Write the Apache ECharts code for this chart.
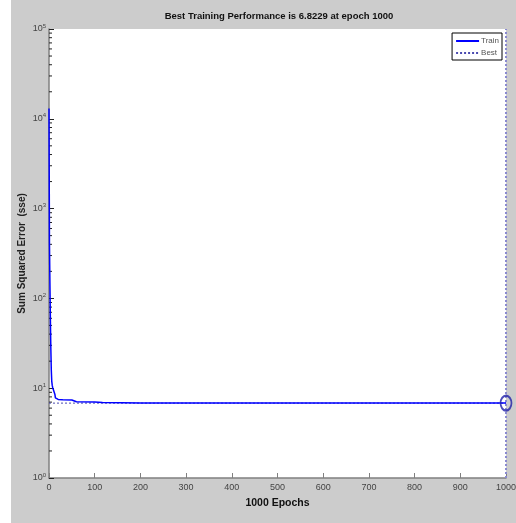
<!DOCTYPE html>
<html>
<head>
<meta charset="utf-8">
<script src="https://cdn.jsdelivr.net/npm/echarts@6/dist/echarts.min.js"></script>
<style>
  html, body { margin: 0; padding: 0; background: #ffffff; }
  #chart { position: absolute; left: 11px; top: 0; width: 505px; height: 523px; }
</style>
</head>
<body>
<div id="chart"></div>
<script>
// Training record: epoch and sum squared error at each vertex of the curve
const epochs = [0, 1, 2, 3, 4, 5, 6, 7, 8, 10, 12, 13, 14, 16, 20, 30, 50, 53, 60, 100, 117, 118, 200, 500, 1000];
const trainSse = [13000, 420, 150, 60, 28, 16, 12, 10.8, 10.2, 10, 9.8, 8.5, 7.8, 7.56, 7.5, 7.45, 7.4, 7.09, 7.07, 7.02, 6.95, 6.87, 6.84, 6.83, 6.8229];
const bestEpoch = 1000;
const bestSse = 6.8229;

// Log axis decades and the in-between minor tick mantissas
const decades = [1, 10, 100, 1000, 10000];
const mantissas = [2, 3, 4, 5, 6, 7, 8, 9];

const minorTickValues = [];
decades.forEach(d => mantissas.forEach(m => minorTickValues.push([0, d * m])));

const FONT = '"Liberation Sans Narrow", "Liberation Sans", Arial, sans-serif';

const chart = echarts.init(document.getElementById('chart'));
chart.setOption({
  backgroundColor: '#cccccc',
  animation: false,
  title: {
    text: 'Best Training Performance is ' + bestSse + ' at epoch ' + bestEpoch,
    left: 263,
    textAlign: 'center',
    top: 6,
    textStyle: { fontFamily: FONT, fontWeight: 'bold', fontSize: 9.5, color: '#111' }
  },
  legend: {
    right: 14,
    top: 33,
    orient: 'vertical',
    backgroundColor: '#ffffff',
    borderColor: '#000000',
    borderWidth: 1,
    borderRadius: 0,
    padding: [4, 3, 3, 3],
    itemGap: 4,
    itemWidth: 23,
    itemHeight: 8,
    itemStyle: { opacity: 0 },
    data: ['Train', 'Best'],
    textStyle: { fontFamily: FONT, fontSize: 8, color: '#555', padding: [0, 0, 0, -3] }
  },
  grid: { left: 38, top: 29, right: 10, bottom: 45, containLabel: false, outerBoundsMode: 'none',
    show: true, backgroundColor: '#ffffff', borderWidth: 0 },
  xAxis: {
    type: 'value',
    min: 0,
    max: 1000,
    interval: 100,
    name: bestEpoch + ' Epochs',
    nameLocation: 'middle',
    nameGap: 20,
    nameMoveOverlap: false,
    nameTextStyle: { fontFamily: FONT, fontWeight: 'bold', fontSize: 10.5, color: '#111' },
    axisLine: { lineStyle: { color: '#808080', width: 1.5 } },
    axisTick: { inside: true, length: 5, lineStyle: { color: '#808080' } },
    axisLabel: { fontFamily: FONT, fontSize: 9, color: '#444', margin: 5, formatter: v => String(v) },
    splitLine: { show: false }
  },
  yAxis: {
    type: 'log',
    logBase: 10,
    min: 1,
    max: 100000,
    interval: 1,
    name: 'Sum Squared Error  (sse)',
    nameLocation: 'middle',
    nameGap: 22,
    nameMoveOverlap: false,
    nameTextStyle: { fontFamily: 'Liberation Sans, Arial, sans-serif', fontWeight: 'bold', fontSize: 10, color: '#222' },
    axisLine: { lineStyle: { color: '#808080', width: 1.5 } },
    axisTick: { inside: true, length: 5, lineStyle: { color: '#222' } },
    axisLabel: {
      margin: 3,
      formatter: v => '{b|10}{s|' + Math.round(Math.log10(v)) + '}',
      rich: {
        b: { fontFamily: FONT, fontSize: 9, color: '#444' },
        s: { fontFamily: FONT, fontSize: 6, color: '#444', padding: [0, 0, 6, 0] }
      }
    },
    splitLine: { show: false }
  },
  series: [
    {
      name: 'Train',
      type: 'line',
      data: epochs.map((e, i) => [e, trainSse[i]]),
      symbol: 'none',
      lineStyle: { color: '#0000ff', width: 1.5 },
      itemStyle: { color: '#0000ff' },
      z: 5
    },
    {
      name: 'Best',
      type: 'line',
      data: [[0, bestSse], [bestEpoch, bestSse]],
      symbol: 'none',
      lineStyle: { color: '#4a4ab0', width: 1, type: [2, 2] },
      itemStyle: { color: '#4a4ab0' },
      z: 4
    },
    {
      name: 'Best',
      type: 'line',
      data: [[bestEpoch, 1], [bestEpoch, 100000]],
      symbol: 'none',
      lineStyle: { color: '#8a8ad0', width: 2, type: [2, 2] },
      z: 4
    },
    {
      name: 'bestMarker',
      type: 'scatter',
      data: [[bestEpoch, bestSse]],
      symbol: 'circle',
      symbolSize: [11, 15],
      itemStyle: { color: 'rgba(0,0,0,0)', borderColor: '#1f1fa8', borderWidth: 2 },
      z: 6
    },
    {
      name: 'minorTicks',
      type: 'custom',
      data: minorTickValues,
      silent: true,
      clip: false,
      renderItem: (params, api) => {
        const p = api.coord([api.value(0), api.value(1)]);
        return {
          type: 'line',
          shape: { x1: p[0], y1: p[1], x2: p[0] + 3, y2: p[1] },
          style: { stroke: '#222', lineWidth: 1 }
        };
      },
      z: 3
    }
  ]
});
</script>
</body>
</html>
